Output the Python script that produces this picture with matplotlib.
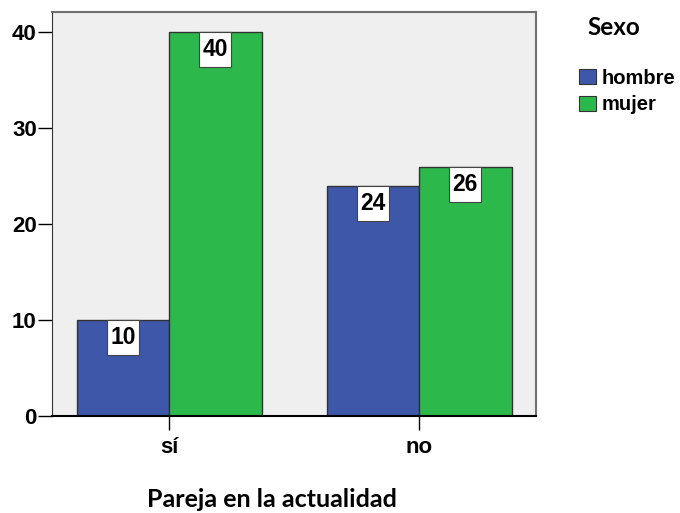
import matplotlib
matplotlib.use("Agg")
import matplotlib.pyplot as plt
from matplotlib.patches import Rectangle, Patch
import numpy as np

categories = ["sí", "no"]
hombre = [10, 24]
mujer = [40, 26]
series_names = ["hombre", "mujer"]
colors = ["#3E57A9", "#2DB84B"]

plt.rcParams["font.family"] = ["Liberation Sans", "DejaVu Sans"]

fig = plt.figure(figsize=(6.8, 5.13), dpi=100)
ax = fig.add_axes([0.0765, 0.189, 0.712, 0.7875])
ax.set_facecolor("#EFEFEF")

x = np.arange(len(categories))
width = 0.37
box_w, box_h = 0.128, 3.65

for offset, vals, color in [(-width / 2, hombre, colors[0]), (width / 2, mujer, colors[1])]:
    bars = ax.bar(x + offset, vals, width, color=color, edgecolor="#333333",
                  linewidth=1.0, zorder=2)
    for b, v in zip(bars, vals):
        cx = b.get_x() + b.get_width() / 2
        ax.add_patch(Rectangle((cx - box_w / 2, v - box_h), box_w, box_h,
                               facecolor="white", edgecolor="#444444",
                               linewidth=0.8, zorder=3))
        ax.text(cx, v - box_h / 2, str(v), ha="center", va="center",
                fontsize=16.5, fontweight="bold", zorder=4)

ax.set_xlim(-0.468, 1.468)
ax.set_ylim(0, 42.1)
ax.set_xticks(x)
ax.set_xticklabels(categories)
ax.set_yticks([0, 10, 20, 30, 40])
ax.tick_params(axis="both", length=10, width=1.0, color="black",
               labelsize=16)
ax.tick_params(axis="y", pad=1)
ax.tick_params(axis="x", pad=5)
for lab in ax.get_xticklabels() + ax.get_yticklabels():
    lab.set_fontweight("bold")

for side in ["top", "right"]:
    ax.spines[side].set_color("#707070")
    ax.spines[side].set_linewidth(1.5)
ax.spines["left"].set_color("#333333")
ax.spines["bottom"].set_color("black")
ax.spines["bottom"].set_linewidth(1.5)

fig.text(0.400, 0.027, "Pareja en la actualidad", ha="center", va="center",
         fontsize=18, fontweight="bold", family=["Lato", "DejaVu Sans"])

fig.text(0.903, 0.947, "Sexo", ha="center", va="center",
         fontsize=17.5, fontweight="bold", family=["Lato", "DejaVu Sans"])
handles = [Patch(facecolor=c, edgecolor="#333333", linewidth=0.8) for c in colors]
fig.legend(handles, series_names, loc="upper left",
           bbox_to_anchor=(0.852, 0.866), frameon=False,
           prop={"family": "Liberation Sans", "size": 14.5, "weight": "bold"},
           handlelength=0.85, handleheight=0.8, handletextpad=0.25,
           labelspacing=0.38, borderpad=0, borderaxespad=0)

fig.savefig("out.png", dpi=100)
